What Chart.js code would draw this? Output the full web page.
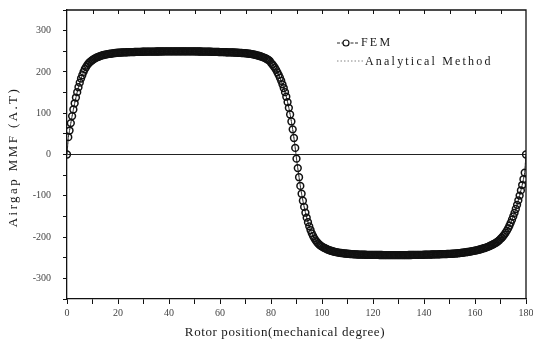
<!DOCTYPE html>
<html>
<head>
<meta charset="utf-8">
<script src="https://cdn.jsdelivr.net/npm/chart.js@4.4.0/dist/chart.umd.min.js"></script>
<style>
  html, body { margin: 0; padding: 0; background: #fff; }
  #wrap { position: relative; width: 533px; height: 349px; }
</style>
</head>
<body>
<div id="wrap"><canvas id="mmf" width="533" height="349"></canvas></div>
<script>
// airgap MMF, one value every half degree (0 .. 180)
const stepDeg = 0.5;
const femMmf = [
  0, 42, 58, 76, 93, 109, 124, 138, 151, 163, 174, 184, 192, 200, 207, 212, 217, 221, 224, 226.5,
  229, 231, 233, 234.5, 236, 237.3, 238.5, 239.5, 240.5, 241.3, 242, 242.6, 243, 243.6, 244, 244.5, 245, 245.4, 245.8, 246.2,
  246.5, 246.7, 246.9, 247.1, 247.3, 247.5, 247.6, 247.7, 247.8, 247.9, 248, 248.1, 248.2, 248.3, 248.4, 248.5, 248.6, 248.7, 248.8, 248.9,
  249, 249, 249.1, 249.1, 249.2, 249.2, 249.3, 249.3, 249.4, 249.4, 249.5, 249.5, 249.5, 249.6, 249.6, 249.6, 249.7, 249.7, 249.7, 249.8,
  249.8, 249.8, 249.9, 249.9, 249.9, 250, 250, 250, 250, 250, 250, 250, 250, 250, 249.9, 249.9, 249.9, 249.8, 249.8, 249.8,
  249.7, 249.7, 249.6, 249.6, 249.5, 249.5, 249.4, 249.4, 249.3, 249.3, 249.2, 249.1, 249, 248.9, 248.8, 248.7, 248.6, 248.5, 248.4, 248.3,
  248.2, 248.1, 248, 247.9, 247.8, 247.7, 247.6, 247.5, 247.4, 247.3, 247.2, 247, 246.8, 246.6, 246.4, 246.2, 246, 245.8, 245.6, 245.4,
  245.2, 244.8, 244.4, 244, 243.5, 243, 242.4, 241.8, 241.1, 240.3, 239.5, 238.6, 237.6, 236.5, 235.3, 234, 232.5, 230.8, 228.9, 226.8,
  222, 218.5, 214.5, 210, 205, 199, 193, 186, 178.5, 170, 161, 151, 140, 127, 113, 97, 80, 61, 40, 16,
  -10, -33, -55, -76, -95, -112, -127, -141, -153, -164, -174, -183, -191, -197.5, -203, -208, -212, -215.5, -218.5, -221,
  -223, -225, -226.5, -228, -229.5, -230.8, -232, -233.1, -234, -234.9, -235.7, -236.4, -237, -237.6, -238.1, -238.6, -239, -239.4, -239.8, -240.1,
  -240.4, -240.7, -241, -241.2, -241.4, -241.6, -241.8, -242, -242.2, -242.3, -242.4, -242.5, -242.6, -242.7, -242.8, -242.9, -243, -243, -243.1, -243.1,
  -243.2, -243.2, -243.3, -243.3, -243.3, -243.4, -243.4, -243.4, -243.5, -243.5, -243.5, -243.5, -243.6, -243.6, -243.6, -243.6, -243.6, -243.6, -243.6, -243.6,
  -243.6, -243.6, -243.6, -243.6, -243.5, -243.5, -243.5, -243.5, -243.4, -243.4, -243.4, -243.3, -243.3, -243.2, -243.2, -243.1, -243.1, -243, -243, -242.9,
  -242.8, -242.7, -242.6, -242.5, -242.4, -242.3, -242.2, -242.1, -242, -241.9, -241.8, -241.7, -241.6, -241.5, -241.4, -241.3, -241.2, -241.1, -241, -240.9,
  -240.8, -240.6, -240.4, -240.2, -240, -239.7, -239.4, -239.1, -238.8, -238.4, -238, -237.6, -237.2, -236.7, -236.2, -235.7, -235.2, -234.6, -234, -233.4,
  -232.8, -232.1, -231.4, -230.6, -229.8, -228.9, -228, -227, -226, -224.9, -223.7, -222.4, -221, -219.5, -218, -216.3, -214.5, -212.5, -210.3, -207.8,
  -204.5, -201.5, -198, -194, -189.5, -184.5, -179, -172.5, -165.5, -158, -150, -141.5, -132, -122, -111, -99.5, -87, -74, -60, -44,
  0
];
// the analytical curve lies right under the FEM markers
const analyticalMmf = femMmf;
const positions = femMmf.map((_, i) => i * stepDeg);

const xTitle = 'Rotor position(mechanical degree)';
const yTitle = 'Airgap MMF (A.T)';
const seriesNames = ['FEM', 'Analytical Method'];

const serif = '"Liberation Serif", "DejaVu Serif", serif';
const ink = '#111';

const toPoints = (vals) => vals.map((y, i) => ({ x: positions[i], y }));

// frame, inward top ticks, axis titles and legend
const decor = {
  id: 'decor',
  afterDraw(chart) {
    const { ctx, chartArea: a, scales } = chart;
    ctx.save();
    ctx.strokeStyle = ink;
    ctx.lineWidth = 1.3;
    ctx.beginPath();
    ctx.moveTo(a.left, a.top);
    ctx.lineTo(a.right, a.top);
    ctx.lineTo(a.right, a.bottom);
    ctx.stroke();
    ctx.lineWidth = 1;
    for (let v = 10; v < 180; v += 10) {
      const px = Math.round(scales.x.getPixelForValue(v)) + 0.5;
      ctx.beginPath();
      ctx.moveTo(px, a.top);
      ctx.lineTo(px, a.top + 4);
      ctx.stroke();
    }

    ctx.fillStyle = '#1a1a1a';
    ctx.textAlign = 'center';
    ctx.textBaseline = 'middle';
    ctx.font = '13px ' + serif;
    ctx.letterSpacing = '0.6px';
    ctx.fillText(xTitle, 285, 333);

    ctx.save();
    ctx.translate(14, 157);
    ctx.rotate(-Math.PI / 2);
    ctx.letterSpacing = '2.4px';
    ctx.fillText(yTitle, 0, 0);
    ctx.restore();

    // legend
    ctx.strokeStyle = ink;
    ctx.lineWidth = 0.9;
    ctx.setLineDash([3, 1.5]);
    ctx.beginPath();
    ctx.moveTo(337, 43);
    ctx.lineTo(359, 43);
    ctx.stroke();
    ctx.setLineDash([]);
    ctx.beginPath();
    ctx.arc(346, 43, 3, 0, Math.PI * 2);
    ctx.fillStyle = '#fff';
    ctx.fill();
    ctx.lineWidth = 1.2;
    ctx.stroke();

    ctx.strokeStyle = '#666';
    ctx.lineWidth = 0.8;
    ctx.setLineDash([1.5, 2]);
    ctx.beginPath();
    ctx.moveTo(337, 61);
    ctx.lineTo(363, 61);
    ctx.stroke();
    ctx.setLineDash([]);

    ctx.fillStyle = '#1a1a1a';
    ctx.textAlign = 'left';
    ctx.font = '12px ' + serif;
    ctx.letterSpacing = '2.2px';
    ctx.fillText(seriesNames[0], 361, 43);
    ctx.fillText(seriesNames[1], 365, 62);
    ctx.restore();
  }
};

new Chart(document.getElementById('mmf'), {
  type: 'line',
  data: {
    datasets: [
      {
        label: seriesNames[0],
        data: toPoints(femMmf),
        borderColor: ink,
        borderWidth: 0.8,
        pointRadius: 3.4,
        pointBorderWidth: 1.5,
        pointBorderColor: ink,
        pointBackgroundColor: 'rgba(255,255,255,0)',
        tension: 0,
      },
      {
        label: seriesNames[1],
        data: toPoints(analyticalMmf),
        borderColor: '#777',
        borderWidth: 0.8,
        borderDash: [1.5, 2],
        pointRadius: 0,
        tension: 0,
      },
    ],
  },
  options: {
    responsive: false,
    animation: false,
    layout: { padding: { top: 10, right: 7, left: 0, bottom: 0 } },
    plugins: { legend: { display: false }, tooltip: { enabled: false } },
    scales: {
      x: {
        type: 'linear',
        min: 0,
        max: 180,
        afterFit: (s) => { s.height = 50; s.paddingLeft = 0; s.paddingRight = 0; },
        border: { color: ink, width: 1.3 },
        grid: { drawOnChartArea: false, tickLength: 5, tickColor: ink, tickWidth: 1 },
        ticks: {
          stepSize: 10,
          autoSkip: false,
          maxRotation: 0,
          padding: 3,
          color: '#444',
          font: { family: serif, size: 10 },
          callback: (v) => (v % 20 === 0 ? v : ''),
        },
      },
      y: {
        min: -350,
        max: 350,
        afterFit: (s) => { s.width = 67; s.paddingTop = 0; s.paddingBottom = 0; },
        border: { color: ink, width: 1.3 },
        grid: {
          drawOnChartArea: true,
          tickLength: 4,
          tickColor: ink,
          tickWidth: 1,
          lineWidth: 1,
          color: (c) => (c.tick && c.tick.value === 0 ? '#222' : 'rgba(0,0,0,0)'),
        },
        ticks: {
          stepSize: 50,
          autoSkip: false,
          padding: 12,
          color: '#444',
          font: { family: serif, size: 10 },
          callback: (v) => (v % 100 === 0 && Math.abs(v) <= 300 ? v : ''),
        },
      },
    },
  },
  plugins: [decor],
});
</script>
</body>
</html>
